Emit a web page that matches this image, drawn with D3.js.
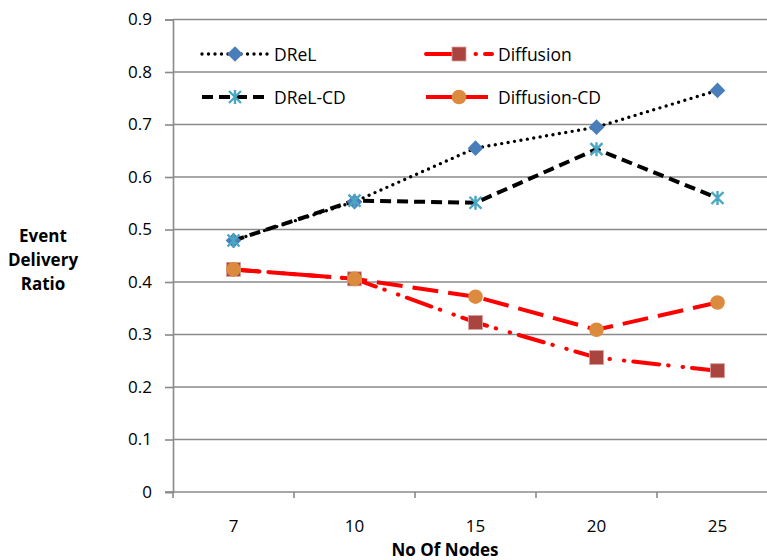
<!DOCTYPE html>
<html>
<head>
<meta charset="utf-8">
<script src="https://cdn.jsdelivr.net/npm/d3@7"></script>
<style>
  html, body { margin: 0; padding: 0; background: #fff; }
  svg { display: block; font-family: "Open Sans", Lato, sans-serif; }
</style>
</head>
<body>
<div id="chart"></div>
<script>
// Event delivery ratio against network size
const nodeCounts = ["7", "10", "15", "20", "25"];
const drel        = [0.479, 0.553, 0.655, 0.695, 0.765];
const drelCD      = [0.479, 0.555, 0.551, 0.653, 0.560];
const diffusion   = [0.424, 0.406, 0.323, 0.256, 0.231];
const diffusionCD = [0.424, 0.406, 0.372, 0.309, 0.361];
const yTicks = [0, 0.1, 0.2, 0.3, 0.4, 0.5, 0.6, 0.7, 0.8, 0.9];

const W = 767, H = 560;
const svg = d3.select("#chart").append("svg").attr("width", W).attr("height", H);

const x = d3.scalePoint().domain(nodeCounts).range([173, 778]).padding(0.5);
const y = d3.scaleLinear().domain([0, 0.9]).range([492, 19.5]);
const step = x.step();
const gridColor = "#8a8a8a";

// horizontal gridlines
svg.append("g").selectAll("line").data(yTicks.slice(1)).join("line")
  .attr("x1", 173).attr("x2", W)
  .attr("y1", d => y(d)).attr("y2", d => y(d))
  .attr("stroke", gridColor).attr("stroke-width", 1.6);

// y axis
const yAxis = svg.append("g").attr("transform", "translate(173,0)")
  .call(d3.axisLeft(y).tickValues(yTicks).tickSize(8).tickPadding(13)
    .tickFormat(d => d === 0 ? "0" : d3.format(".1f")(d)));
yAxis.select(".domain").attr("stroke", gridColor).attr("stroke-width", 1.6);
yAxis.selectAll(".tick line").attr("stroke", gridColor).attr("stroke-width", 1.6);
yAxis.selectAll("text").attr("font-size", 17).attr("fill", "#000")
  .attr("font-family", "'Open Sans', sans-serif");

// x axis: ticks on category boundaries, labels at category centres
const xAxisG = svg.append("g");
xAxisG.append("line").attr("x1", 165).attr("x2", W)
  .attr("y1", y(0)).attr("y2", y(0))
  .attr("stroke", gridColor).attr("stroke-width", 1.6);
const boundaries = nodeCounts.map(c => x(c) - step / 2);
xAxisG.selectAll("line.tk").data(boundaries).join("line").attr("class", "tk")
  .attr("x1", d => d).attr("x2", d => d)
  .attr("y1", y(0)).attr("y2", y(0) + 6)
  .attr("stroke", gridColor).attr("stroke-width", 1.6);
xAxisG.selectAll("text").data(nodeCounts).join("text")
  .attr("x", d => x(d)).attr("y", 532)
  .attr("text-anchor", "middle").attr("font-size", 17).text(d => d);

// axis titles
svg.append("text").attr("x", 445).attr("y", 556).attr("text-anchor", "middle")
  .attr("font-size", 17).attr("font-weight", "bold").text("No Of Nodes");
const yTitle = svg.append("text").attr("text-anchor", "middle")
  .attr("font-size", 17).attr("font-weight", "bold");
["Event", "Delivery", "Ratio"].forEach((t, i) =>
  yTitle.append("tspan").attr("x", 43).attr("y", 242 + i * 24).text(t));

// series definitions
const series = [
  { name: "DReL", values: drel, stroke: "#000", width: 3.4, dash: "0 6.5", cap: "round", marker: "diamond", fill: "#4a7ebb" },
  { name: "Diffusion", values: diffusion, stroke: "#ff0000", width: 4, dash: "26 9 0.5 14 0.5 9", cap: "round", marker: "square", fill: "#a9443f" },
  { name: "DReL-CD", values: drelCD, stroke: "#000", width: 4, dash: "11 6", cap: "butt", marker: "star", fill: "#4aa6c2" },
  { name: "Diffusion-CD", values: diffusionCD, stroke: "#ff0000", width: 4, dash: "26 10", cap: "butt", marker: "circle", fill: "#dc8a3e" }
];

function drawMarker(g, type, color) {
  if (type === "diamond") {
    g.append("path").attr("d", "M0,-7.8L7.8,0L0,7.8L-7.8,0Z").attr("fill", color);
  } else if (type === "square") {
    g.append("rect").attr("x", -7).attr("y", -7).attr("width", 14).attr("height", 14)
      .attr("fill", color).attr("stroke", "#d9a0a0").attr("stroke-width", 0.8);
  } else if (type === "circle") {
    g.append("circle").attr("r", 7.3).attr("fill", color);
  } else if (type === "star") {
    const s = 6;
    g.append("path")
      .attr("d", `M${-s},${-s}L${s},${s}M${-s},${s}L${s},${-s}M0,${-s - 1}L0,${s + 1}`)
      .attr("stroke", color).attr("stroke-width", 2.4).attr("fill", "none");
  }
}

const line = d3.line().x((d, i) => x(nodeCounts[i])).y(d => y(d));

series.forEach(s => {
  svg.append("path").datum(s.values).attr("d", line)
    .attr("fill", "none").attr("stroke", s.stroke).attr("stroke-width", s.width)
    .attr("stroke-dasharray", s.dash).attr("stroke-linecap", s.cap);
});
series.forEach(s => {
  s.values.forEach((v, i) => {
    const g = svg.append("g").attr("transform", `translate(${x(nodeCounts[i])},${y(v)})`);
    drawMarker(g, s.marker, s.fill);
  });
});

// legend
const legendPos = [
  { lx: 202, ty: 54 }, { lx: 426, ty: 54 }, { lx: 202, ty: 97 }, { lx: 426, ty: 97 }
];
series.forEach((s, i) => {
  const p = legendPos[i];
  const g = svg.append("g").attr("transform", `translate(${p.lx},${p.ty})`);
  g.append("line").attr("x1", 0).attr("x2", 66).attr("y1", 0).attr("y2", 0)
    .attr("stroke", s.stroke).attr("stroke-width", s.width)
    .attr("stroke-dasharray", s.dash).attr("stroke-linecap", s.cap);
  const m = g.append("g").attr("transform", "translate(33,0)");
  drawMarker(m, s.marker, s.fill);
  g.append("text").attr("x", 72).attr("y", 6.5).attr("font-size", 17.5).text(s.name);
});
</script>
</body>
</html>
